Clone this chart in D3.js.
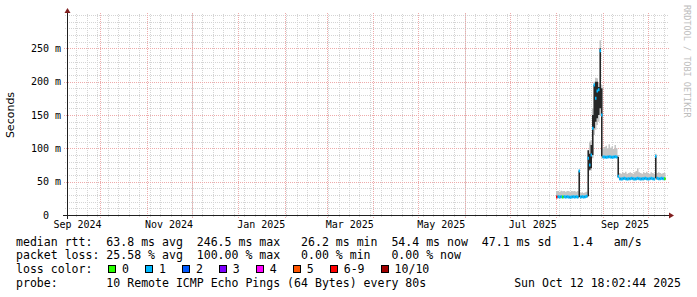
<!DOCTYPE html>
<html><head><meta charset="utf-8">
<script src="https://cdn.jsdelivr.net/npm/d3@7"></script>
<style>
html,body{margin:0;padding:0;background:#fff;}
svg{display:block;}
text{white-space:pre;}
</style></head><body>
<svg id="c" width="697" height="297"></svg>
<script>
// ---------- data ----------
const dataStart = "2025-08-01";   // one value per day
const median = [27,27.5,27,27.5,27,27.5,27,27.5,27,26.5,27,27.5,27,27.5,27,
  66,
  27,27.5,27,27.5,28,
  85,75,90,130,195,175,186,188,246.5,150,
  87,87,86.5,87,87.5,87,86.5,87,87.5,87,
  58,
  54.5,54,54.5,55,54.5,54,54.5,54.5,55,54.5,54,54.5,55,54.5,54,54.5,54.5,55,54.5,54,54.5,55,54.5,54,
  88,
  55,54.5,54.5,55,54.5,54.4];
const smokeHi = [36,36,35,36.5,35.5,36,35,36,36,35,36,35.5,36,35,36,
  68,
  33,34,33,34,35,
  97,110,112,160,200,206,205,198,262,195,
  100,102,104,100,106,101,103,99,105,100,
  90,
  63,62,64,63,65,62,63,64,63,62,64,66,70,64,63,62,64,63,65,63,62,64,63,62,
  92,
  63,64,63,62,63,63];
const smokeLo = [25,25.5,25,25.5,25,25.5,25,25.5,25,25,25,25.5,25,25.5,25,
  26,
  25,25.5,25,25.5,26,
  28,66,68,85,120,128,135,140,150,86,
  85,85,85,85,85.5,85,85,85,85.5,85,
  55,
  52,52,52.5,53,52.5,52,52,52.5,53,52.5,52,52,52.5,52.5,52,52,52.5,53,52.5,52,52.5,53,52.5,52,
  53,
  53,52.5,52.5,53,52.5,52.5];
const coreLo = [26,26.5,26,26.5,26,26.5,26,26.5,26,25.5,26,26.5,26,26.5,26,
  27,
  26,26.5,26,26.5,27,
  28,68,70,90,130,140,145,150,160,88,
  86,86,85.5,86,86.5,86,85.5,86,86.5,86,
  57,
  53.5,53,53.5,54,53.5,53,53.5,53.5,54,53.5,53,53.5,54,53.5,53,53.5,53.5,54,53.5,53,53.5,54,53.5,53,
  55,
  54,53.5,53.5,54,53.5,53.4];
const coreHi = [28,28.5,28,28.5,28,28.5,28,28.5,28,27.5,28,28.5,28,28.5,28,
  66,
  28,28.5,28,28.5,29,
  97,92,105,150,195,200,200,192,250,190,
  88,88,87.5,88,88.5,88,87.5,88,88.5,88,
  87,
  55.5,55,55.5,56,55.5,55,55.5,55.5,56,55.5,55,55.5,56,55.5,55,55.5,55.5,56,55.5,55,55.5,56,55.5,55,
  88,
  56,55.5,55.5,56,55.5,55.4];
// loss class per day (index into lossLabels / lossColors)
const loss = [6,1,1,1,0,1,1,1,1,1,1,1,1,1,1,
  1,
  1,1,1,1,1,
  1,1,1,1,1,1,1,1,1,1,
  1,1,1,1,1,1,1,1,1,1,
  1,
  1,1,1,1,1,1,1,1,1,1,1,1,1,1,1,1,1,1,1,1,1,1,1,1,
  1,
  1,1,1,1,1,0];
const lossLabels = ["0","1","2","3","4","5","6-9","10/10"];
const lossColors = ["#26ff00","#00b8ff","#0059ff","#7e00ff","#ff00ff","#ff5500","#ff0000","#a10000"];
const yTickValues = [0,50,100,150,200,250];
const yTickLabels = ["0  ","50 m","100 m","150 m","200 m","250 m"];
const xTickLabels = ["Sep 2024","Nov 2024","Jan 2025","Mar 2025","May 2025","Jul 2025","Sep 2025"];
const legendLines = [
  "median rtt:  63.8 ms avg  246.5 ms max   26.2 ms min  54.4 ms now  47.1 ms sd   1.4   am/s",
  "packet loss: 25.58 % avg  100.00 % max   0.00 % min   0.00 % now",
  "loss color:",
  "probe:       10 Remote ICMP Echo Pings (64 Bytes) every 80s"
];
const stamp = "Sun Oct 12 18:02:44 2025";

// ---------- drawing ----------
const svg = d3.select("#c");
const X0 = 67, XS = 600, Y0 = 215, YS = 200;
const tStart = new Date(Date.UTC(2024, 8, 9)), tEnd = new Date(Date.UTC(2025, 9, 14));
const x = d3.scaleUtc().domain([tStart, tEnd]).range([X0, X0 + XS]);
const y = d3.scaleLinear().domain([0, 300]).range([Y0, Y0 - YS]);
const px = v => Math.round(v) + 0.5;
const mono = "'DejaVu Sans Mono', monospace";

svg.append("rect").attr("width", 697).attr("height", 297).attr("fill", "#fff");

const grid = svg.append("g").attr("shape-rendering", "crispEdges").attr("fill", "none");
const minorCol = "#d4d4d4", majorCol = "#eeaaaa";
// minor horizontal
y.ticks(30).filter(v => v > 0 && (v % 50 !== 0 || v === 300)).forEach(v => {
  grid.append("line").attr("x1", X0 - 2).attr("x2", X0 + XS + 2).attr("y1", px(y(v))).attr("y2", px(y(v)))
    .attr("stroke", minorCol).attr("stroke-dasharray", "1,1");
});
// minor vertical (weekly, Sundays)
d3.utcSunday.range(tStart, tEnd).forEach(d => {
  grid.append("line").attr("x1", px(x(d))).attr("x2", px(x(d))).attr("y1", Y0 - YS - 1).attr("y2", Y0 + 2)
    .attr("stroke", minorCol).attr("stroke-dasharray", "1,1");
});
// major horizontal
yTickValues.filter(v => v > 0).forEach(v => {
  grid.append("line").attr("x1", X0 - 3).attr("x2", X0 + XS + 3).attr("y1", px(y(v))).attr("y2", px(y(v)))
    .attr("stroke", majorCol).attr("stroke-dasharray", "1,1");
});
// major vertical (monthly)
d3.utcMonth.range(tStart, tEnd).forEach(d => {
  grid.append("line").attr("x1", px(x(d))).attr("x2", px(x(d))).attr("y1", Y0 - YS - 2).attr("y2", Y0 + 3)
    .attr("stroke", majorCol).attr("stroke-dasharray", "1,1");
});

// data
const d0 = d3.utcParse("%Y-%m-%d")(dataStart);
const days = median.map((m, i) => ({
  t: d3.utcDay.offset(d0, i), t2: d3.utcDay.offset(d0, i + 1),
  m, lo: smokeLo[i], hi: smokeHi[i], cl: coreLo[i], ch: coreHi[i], loss: loss[i]
}));
const ext = days.concat([{ ...days[days.length - 1], t: days[days.length - 1].t2 }]);
const plot = svg.append("g");
plot.append("path").datum(ext)
  .attr("d", d3.area().curve(d3.curveStepAfter).x(d => x(d.t)).y0(d => y(d.lo)).y1(d => y(d.hi)))
  .attr("fill", "#c4c4c4");
plot.append("path").datum(ext)
  .attr("d", d3.area().curve(d3.curveStepAfter).x(d => x(d.t)).y0(d => y(d.cl)).y1(d => y(d.ch)))
  .attr("fill", "#262626");
plot.selectAll("line.med").data(days).join("line").attr("class", "med")
  .attr("x1", d => x(d.t)).attr("x2", d => x(d.t2))
  .attr("y1", d => y(d.m)).attr("y2", d => y(d.m))
  .attr("stroke", d => lossColors[d.loss]).attr("stroke-width", 3);

// axes
const ax = svg.append("g").attr("shape-rendering", "crispEdges");
ax.append("line").attr("x1", X0 - 4).attr("x2", X0 + XS + 4).attr("y1", Y0 + 0.5).attr("y2", Y0 + 0.5)
  .attr("stroke", "#1f1f1f");
ax.append("line").attr("x1", X0 + 0.5).attr("x2", X0 + 0.5).attr("y1", Y0 + 4).attr("y2", Y0 - YS - 4)
  .attr("stroke", "#1f1f1f");
svg.append("path").attr("fill", "#801f1f")
  .attr("d", `M${X0 + XS + 2},${Y0 - 3 + 0.5}L${X0 + XS + 2},${Y0 + 3 + 0.5}L${X0 + XS + 7},${Y0 + 0.5}Z`);
svg.append("path").attr("fill", "#801f1f")
  .attr("d", `M${X0 - 3 + 0.5},${Y0 - YS - 2}L${X0 + 3 + 0.5},${Y0 - YS - 2}L${X0 + 0.5},${Y0 - YS - 7}Z`);

// y tick labels
svg.append("g").selectAll("text").data(yTickValues).join("text")
  .attr("x", 61).attr("y", d => y(d) + 3.5).attr("text-anchor", "end")
  .attr("font-family", mono).attr("font-size", 10).attr("fill", "#000")
  .text((d, i) => yTickLabels[i]);
// x tick labels (centred mid-month)
const parseM = d3.utcParse("%b %Y");
svg.append("g").selectAll("text").data(xTickLabels).join("text")
  .attr("x", d => { const m = parseM(d); return x(new Date((+m + +d3.utcMonth.offset(m, 1)) / 2)); })
  .attr("y", 228).attr("text-anchor", "middle")
  .attr("font-family", mono).attr("font-size", 10).attr("fill", "#000")
  .text(d => d);
// y axis title
svg.append("text").attr("transform", "translate(14,115) rotate(-90)").attr("text-anchor", "middle")
  .attr("font-family", "'DejaVu Sans', sans-serif").attr("font-size", 11).attr("fill", "#000").text("Seconds");
// watermark
svg.append("text").attr("transform", "translate(684,5) rotate(90)")
  .attr("font-family", mono).attr("font-size", 8.5).attr("fill", "#bdbdbd").text("RRDTOOL / TOBI OETIKER");

// legend
const base = [245.5, 259.3, 273.3, 287.3];
const lg = svg.append("g").attr("font-family", mono).attr("font-size", 11.55).attr("fill", "#000");
legendLines.forEach((s, i) => lg.append("text").attr("x", 16).attr("y", base[i]).text(s));
lg.append("text").attr("x", 681).attr("y", base[3]).attr("text-anchor", "end").text(stamp);
let bx = 108;
lossLabels.forEach((lab, i) => {
  lg.append("rect").attr("x", bx + 0.5).attr("y", 265.5).attr("width", 7).attr("height", 7)
    .attr("fill", lossColors[i]).attr("stroke", "#000").attr("shape-rendering", "crispEdges");
  lg.append("text").attr("x", bx + 14).attr("y", base[2]).text(lab);
  bx += lab.length * 6.95 + 30;
});
</script>
</body></html>
